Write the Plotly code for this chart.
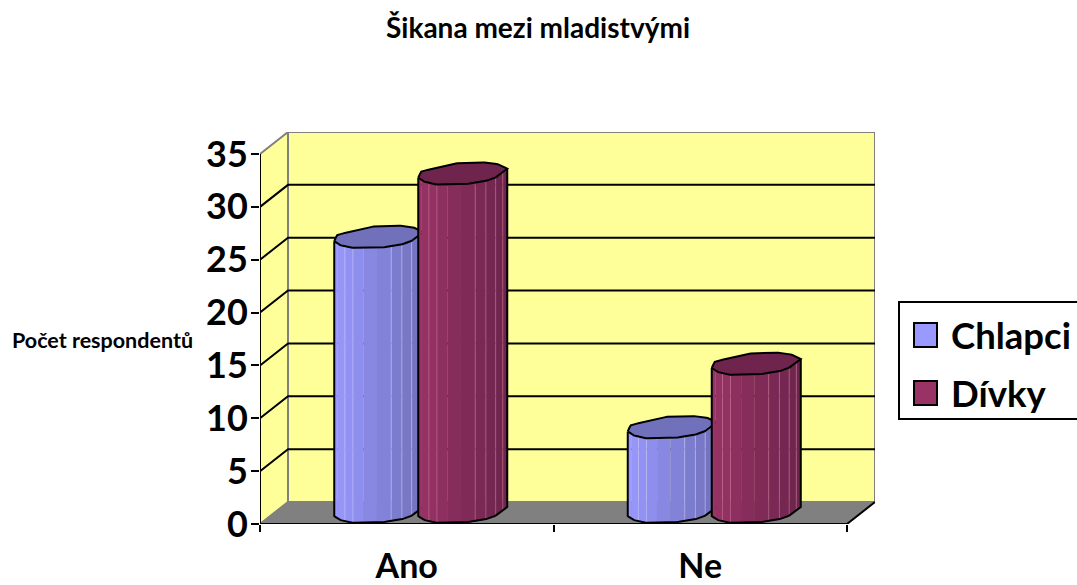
import numpy as np
import plotly.graph_objects as go

TITLE = "Šikana mezi mladistvými"
Y_TITLE = "Počet respondentů"
categories = ["Ano", "Ne"]
chlapci = [26, 8]
divky = [32, 14]
tick_values = [0, 5, 10, 15, 20, 25, 30, 35]

FONT = "Lato"
W, H = 1077, 585
L, R, T, B = 260, 875, 132, 524      # plot box, pixels
PX_X = 293.5                         # pixels per category
PX_Y = 10.571                        # pixels per unit
DX = 28 / PX_X                       # depth of the floor
DY = 22 / PX_Y
CYL_W = 89 / PX_X
CYL_STEP = 84 / PX_X
BASE = 8 / PX_Y

FRONT_F = [0, .05, .18, .5, .72, .85, .93, 1]
FRONT_D = [0, 3.5, 6.7, 6.7, 4.2, .7, -4, -9]
BACK_F = [0, .03, .2, .48, .78, .92, 1]
BACK_D = [0, -6, -10.3, -15.3, -15.3, -13, -9]

BLUE = dict(name="Chlapci", l=(153, 153, 255), r=(112, 112, 186), top="#7070BB", line=(205, 205, 255))
RED = dict(name="Dívky", l=(153, 51, 102), r=(108, 36, 76), top="#6E244C", line=(200, 120, 155))
STRIP_F = [0, .04, .12, .21, .33, .48, .64, .76, .87, .95, 1]
LINE_F = [.12, .21, .64, .76, .87, .95]


def front(f):
    return np.interp(f, FRONT_F, FRONT_D) / PX_Y


def back(f):
    return np.interp(f, BACK_F, BACK_D) / PX_Y


def rgb(c):
    return "rgb(%d,%d,%d)" % tuple(int(round(v)) for v in c)


fig = go.Figure()


def poly(xs, ys, fill, color="rgba(0,0,0,0)", width=0):
    fig.add_trace(go.Scatter(x=xs, y=ys, mode="lines", fill="toself", fillcolor=fill,
                             line=dict(color=color, width=width), showlegend=False,
                             hoverinfo="skip", cliponaxis=False))


def seg(xs, ys, color="black", width=2):
    fig.add_trace(go.Scatter(x=xs, y=ys, mode="lines", line=dict(color=color, width=width),
                             showlegend=False, hoverinfo="skip", cliponaxis=False))


top = tick_values[-1]
# walls and floor
poly([DX, 2 + DX, 2 + DX, DX, DX], [DY, DY, top + DY, top + DY, DY], "#FFFF99", "#808080", 2)
poly([0, DX, DX, 0, 0], [0, DY, top + DY, top, 0], "#FFFF99", "#808080", 2)
poly([0, DX, 2 + DX, 2, 0], [0, DY, DY, 0, 0], "#808080", "#808080", 1)
for v in tick_values[1:-1]:
    seg([0, DX, 2 + DX], [v, v + DY, v + DY])


def cylinder(x0, value, s):
    f = np.linspace(0, 1, 60)
    xs = x0 + f * CYL_W
    y0 = BASE
    y1 = value + BASE
    for a, b in zip(STRIP_F[:-1], STRIP_F[1:]):
        g = np.linspace(a, b, 8)
        t = (a + b) / 2
        c = [p + (q - p) * t for p, q in zip(s["l"], s["r"])]
        gx = x0 + g * CYL_W
        poly(list(gx) + list(gx[::-1]),
             list(y0 - front(g)) + list((y1 - front(g))[::-1]), rgb(c), rgb(c), 0.5)
    for a in LINE_F:
        fig.add_trace(go.Scatter(x=[x0 + a * CYL_W] * 2, y=[y0 - front(a), y1 - front(a)], mode="lines",
                                 line=dict(color=rgb(s["line"]), width=1), opacity=.55,
                                 showlegend=False, hoverinfo="skip"))
    # outline of the body
    seg([x0] * 2 + list(xs) + [x0 + CYL_W] * 2,
        [y1, y0] + list(y0 - front(f)) + [y0 - front(1), y1 - front(1)])
    # top cap
    fb = np.linspace(1, 0, 60)
    poly(list(xs) + list(x0 + fb * CYL_W), list(y1 - front(f)) + list(y1 - back(fb)), s["top"], "black", 2)


for i in range(len(categories)):
    centre = i + .5 + DX / 2
    cylinder(centre - CYL_STEP / 2 - CYL_W / 2, chlapci[i], BLUE)
    cylinder(centre + CYL_STEP / 2 - CYL_W / 2, divky[i], RED)

# front axis lines
seg([0, 0, 2], [top, 0, 0])
seg([2, 2 + DX], [0, DY])

pw, ph = R - L, B - T


def px(x):
    return (x - L) / pw


def py(y):
    return (B - y) / ph


shapes = [
    dict(type="rect", xref="paper", yref="paper", x0=px(899), x1=px(1090), y0=py(419), y1=py(302),
         line=dict(color="black", width=2), fillcolor="white"),
]
anns = [
    dict(text="<b>%s</b>" % TITLE, x=px(538), y=py(27), font=dict(size=28)),
    dict(text="<b>%s</b>" % Y_TITLE, x=px(102.5), y=py(340), font=dict(size=21.5)),
]
for s, y in ((BLUE, 335), (RED, 393)):
    shapes.append(dict(type="rect", xref="paper", yref="paper", x0=px(914), x1=px(937),
                       y0=py(y + 12), y1=py(y - 12), line=dict(color="black", width=2),
                       fillcolor=rgb(s["l"])))
    anns.append(dict(text="<b>%s</b>" % s["name"], x=px(949), y=py(y), xanchor="left",
                     font=dict(size=36.5)))
for a in anns:
    a.update(xref="paper", yref="paper", showarrow=False)
    a.setdefault("xanchor", "center")
    a["yanchor"] = "middle"
    a["font"].update(family=FONT, color="black")

fig.update_layout(
    width=W, height=H, autosize=False,
    margin=dict(l=L, r=W - R, t=T, b=H - B, pad=0),
    paper_bgcolor="white", plot_bgcolor="white", showlegend=False,
    shapes=shapes, annotations=anns,
    font=dict(family=FONT, color="black"),
    xaxis=dict(range=[0, 2 + DX], showgrid=False, zeroline=False, showline=False, automargin=False,
               tickmode="array", tickvals=[.5, 1.5], ticktext=["<b>%s</b>" % c for c in categories],
               ticks="outside", ticklen=12, tickcolor="rgba(0,0,0,0)",
               tickfont=dict(family=FONT, size=34, color="black"),
               minor=dict(tickmode="array", tickvals=[0, 1, 2], ticks="outside", ticklen=7,
                          tickwidth=2, tickcolor="black", showgrid=False)),
    yaxis=dict(range=[0, (B - T) / PX_Y], showgrid=False, zeroline=False, showline=False, automargin=False,
               tickmode="array", tickvals=tick_values,
               ticktext=["<b>%d</b>" % v for v in tick_values],
               ticks="outside", ticklen=8, tickwidth=2, tickcolor="black", ticklabelstandoff=-4,
               tickfont=dict(family=FONT, size=36, color="black")),
)
fig.write_html("out.html", config=dict(displayModeBar=False),
               post_script="document.body.style.margin='0';document.body.style.overflow='hidden';")
